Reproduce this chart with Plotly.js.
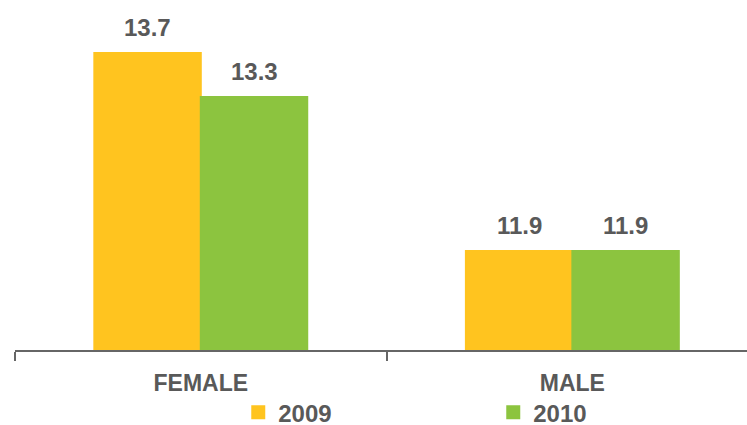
<!DOCTYPE html>
<html>
<head>
<meta charset="utf-8">
<script src="https://cdn.plot.ly/plotly-3.0.1.min.js"></script>
<style>html,body{margin:0;padding:0;background:#fff;}#chart{width:747px;height:425px;}</style>
</head>
<body>
<div id="chart"></div>
<script>
const categories = ["FEMALE", "MALE"];
const seriesNames = ["2009", "2010"];
const values2009 = [13.7, 11.9];
const values2010 = [13.3, 11.9];
const colors = ["#FFC41F", "#8CC43F"];

const textColor = "#595959";
const fontFam = "Liberation Sans, Arial, sans-serif";
const bargap = 0.427;
const barOffset = (1 - bargap) / 4;

function mkTrace(name, vals, color) {
  return {
    type: "bar",
    name: name,
    x: categories,
    y: vals,
    marker: {color: color, line: {color: color, width: 2}},
    hoverinfo: "skip"
  };
}

const data = [
  mkTrace(seriesNames[0], values2009, colors[0]),
  mkTrace(seriesNames[1], values2010, colors[1])
];

const annotations = [];
[values2009, values2010].forEach((vals, s) => {
  vals.forEach((v, i) => {
    annotations.push({
      x: i + (s === 0 ? -barOffset : barOffset),
      y: v,
      xref: "x", yref: "y",
      text: v.toFixed(1),
      showarrow: false,
      yanchor: "bottom",
      yshift: 10,
      font: {family: fontFam, size: 24, color: textColor, weight: "bold"}
    });
  });
});

const layout = {
  width: 747, height: 425,
  margin: {l: 15, r: 0, t: 0, b: 75, autoexpand: false},
  paper_bgcolor: "#fff", plot_bgcolor: "#fff",
  barmode: "group",
  bargap: bargap,
  bargroupgap: 0,
  showlegend: true,
  font: {family: fontFam, color: textColor},
  annotations: annotations,
  xaxis: {
    type: "category",
    range: [-0.5, 1.47],
    automargin: false,
    showline: true, linecolor: "#666666", linewidth: 2,
    ticks: "outside", tickson: "boundaries", ticklen: 9, tickcolor: "#666666", tickwidth: 2,
    tickfont: {family: fontFam, size: 23, color: textColor, weight: "bold"},
    ticklabelstandoff: 11,
    showgrid: false, zeroline: false, fixedrange: true
  },
  yaxis: {
    range: [11, 14.182],
    automargin: false,
    visible: false, showgrid: false, zeroline: false, fixedrange: true
  },
  legend: {
    orientation: "h",
    x: 0.305, xanchor: "left",
    y: -0.115, yanchor: "top",
    entrywidth: 210, entrywidthmode: "pixels",
    font: {family: fontFam, size: 24, color: textColor, weight: "bold"},
    itemwidth: 30,
    maxheight: 1,
    bgcolor: "rgba(0,0,0,0)"
  }
};

Plotly.newPlot("chart", data, layout, {displayModeBar: false, staticPlot: true});
</script>
</body>
</html>
